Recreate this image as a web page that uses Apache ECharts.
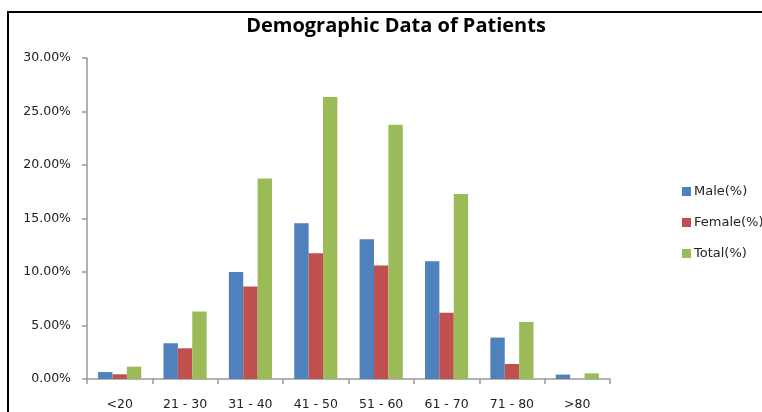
<!DOCTYPE html>
<html>
<head>
<meta charset="utf-8">
<script src="https://cdn.jsdelivr.net/npm/echarts@6/dist/echarts.min.js"></script>
<style>
html,body{margin:0;padding:0;background:#fff;}
#c{width:762px;height:412px;}
</style>
</head>
<body>
<div id="c"></div>
<script>
const categories = ['<20', '21 - 30', '31 - 40', '41 - 50', '51 - 60', '61 - 70', '71 - 80', '>80'];
const male = [0.65, 3.34, 10.0, 14.56, 13.06, 11.0, 3.87, 0.41];
const female = [0.44, 2.87, 8.64, 11.75, 10.6, 6.2, 1.4, 0];
const total = [1.15, 6.3, 18.74, 26.35, 23.76, 17.28, 5.33, 0.53];
const seriesNames = ['Male(%)', 'Female(%)', 'Total(%)'];
const colors = ['#4F81BD', '#C0504D', '#9BBB59'];

const chart = echarts.init(document.getElementById('c'), null, {renderer: 'canvas'});
const axisFont = {fontFamily: 'DejaVu Sans', fontSize: 12.5, color: '#222'};
chart.setOption({
  animation: false,
  color: colors,
  title: {
    text: 'Demographic Data of Patients',
    left: 391, top: 11, textAlign: 'center',
    textStyle: {fontFamily: 'Open Sans', fontWeight: 'bold', fontSize: 20, color: '#000'}
  },
  legend: {
    orient: 'vertical', left: 677, top: 180,
    itemWidth: 9, itemHeight: 9, itemGap: 18,
    icon: 'rect',
    textStyle: {fontFamily: 'DejaVu Sans', fontSize: 13, color: '#222', padding: [0,0,0,-2]},
    data: seriesNames
  },
  grid: {left: 87, right: 152, top: 58, bottom: 33, containLabel: false},
  xAxis: {
    type: 'category', data: categories,
    axisLine: {lineStyle: {color: '#999', width: 1.5}},
    axisTick: {show: true, alignWithLabel: false, length: 5, lineStyle: {color: '#999', width: 1.5}},
    axisLabel: Object.assign({margin: 19}, axisFont),
    splitLine: {show: false}
  },
  yAxis: {
    type: 'value', min: 0, max: 30, interval: 5,
    axisLine: {show: true, lineStyle: {color: '#999', width: 1.5}},
    axisTick: {show: true, length: 5, lineStyle: {color: '#999', width: 1.5}},
    axisLabel: Object.assign({margin: 16, formatter: v => v.toFixed(2) + '%'}, axisFont),
    splitLine: {show: false}
  },
  series: [
    {name: seriesNames[0], type: 'bar', data: male, barGap: '0%', barCategoryGap: '34%'},
    {name: seriesNames[1], type: 'bar', data: female, barGap: '0%', barCategoryGap: '34%'},
    {name: seriesNames[2], type: 'bar', data: total, barGap: '0%', barCategoryGap: '34%'}
  ],
  graphic: [{
    type: 'rect', silent: true,
    shape: {x: 8, y: 12, width: 900, height: 500},
    style: {fill: 'none', stroke: '#000', lineWidth: 2}
  }]
});
</script>
</body>
</html>
